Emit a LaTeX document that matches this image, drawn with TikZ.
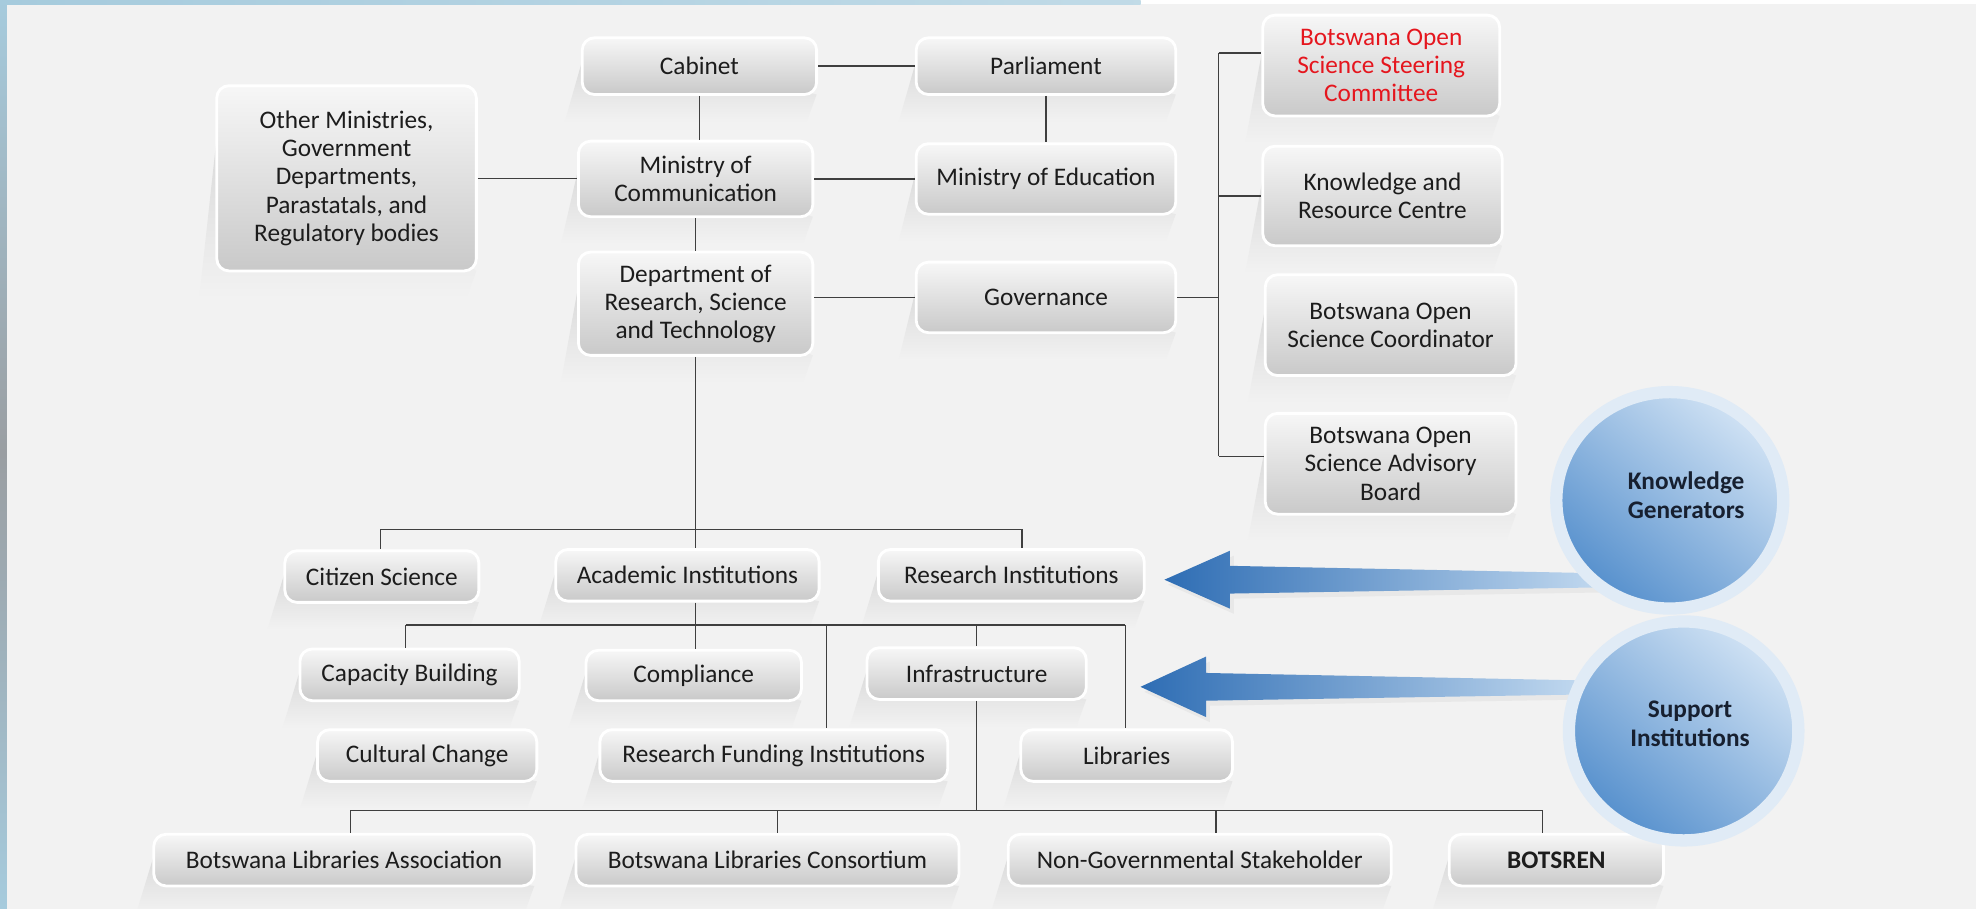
\documentclass[tikz,border=0pt]{standalone}
\usepackage{fontspec}
\setmainfont{Carlito}
\usetikzlibrary{calc,shapes.geometric}
\definecolor{bg}{HTML}{F2F2F2}
\definecolor{shd}{HTML}{D2D2D2}
\definecolor{boxtop}{HTML}{F7F7F7}
\definecolor{boxbot}{HTML}{C9C9C9}
\definecolor{txt}{HTML}{1C1C1C}
\definecolor{conncol}{HTML}{3F3F3F}
\definecolor{redtxt}{HTML}{E5161E}
\definecolor{arrdark}{HTML}{2E6DB4}
\definecolor{arrlight}{HTML}{C3DAF0}
\definecolor{elltop}{HTML}{D0E2F4}
\definecolor{ellbot}{HTML}{5690CD}
\definecolor{halo}{HTML}{E0EBF6}
\definecolor{stripblue}{HTML}{A6CBDD}
\definecolor{stripgray}{HTML}{9A9EA2}
\definecolor{circtxt}{HTML}{172030}
\newcommand\obox[7][]{%
  \pgfmathsetmacro\bw{(#5-#3)*0.0252}%
  \pgfmathsetmacro\bh{(#6-#4)*0.0252}%
  \shade[top color=shd, bottom color=bg] (#3+4,#4+4) -- (#3-14,#6+22) -- (#5-8,#6+22) -- (#5,#6) -- cycle;
  \node[obx,minimum width=\bw cm,minimum height=\bh cm,#1] (#2) at ({(#3+#5)/2},{(#4+#6)/2}) {#7};
}
\begin{document}
\begin{tikzpicture}[x=0.0252cm,y=-0.0252cm,
  obx/.style={rectangle, rounded corners=7pt, top color=boxtop, bottom color=boxbot,
    draw=white, line width=1.6pt, inner sep=0pt, align=center, text=txt,
    font=\fontsize{14.4}{16}\selectfont},
  conn/.style={draw=conncol, line width=0.8pt},
  ell/.style={ellipse, draw=halo, line width=7pt, top color=elltop, bottom color=ellbot,
    shading angle=-40, inner sep=0pt},
  ctext/.style={align=center, text=circtxt, font=\fontsize{14.4}{16.5}\selectfont\bfseries}]
\useasboundingbox (0,0) rectangle (1568,721);
% background
\fill[bg] (0,0) rectangle (1568,721);
\shade[top color=stripblue, bottom color=stripgray] (0,0) rectangle (5.5,360);
\shade[top color=stripgray, bottom color=stripblue] (0,360) rectangle (5.5,721);
\shade[left color=stripblue, right color=stripblue!70!white] (0,0) rectangle (905,3.5);
\fill[white] (905,0) rectangle (1568,3.5);

% boxes
\obox{cab}{462}{30}{648}{75}{Cabinet}
\obox{par}{727}{30}{933}{75}{Parliament}
\obox{oth}{172}{68}{378}{215}{Other Ministries,\\Government\\Departments,\\Parastatals, and\\Regulatory bodies}
\obox{mc}{459}{112}{645}{172}{Ministry of\\Communication}
\obox{me}{727}{114}{933}{170}{Ministry of Education}
\obox{dept}{459}{200}{645}{282}{Department of\\Research, Science\\and Technology}
\obox{gov}{727}{208}{933}{264}{Governance}
\obox[text=redtxt]{steer}{1002}{12}{1190}{92}{Botswana Open\\Science Steering\\Committee}
\obox{krc}{1002}{116}{1192}{195}{Knowledge and\\Resource Centre}
\obox{coord}{1004}{218}{1203}{298}{Botswana Open\\Science Coordinator}
\obox{adv}{1004}{328}{1203}{408}{Botswana Open\\Science Advisory\\Board}
\obox{cit}{226}{437}{380}{478}{Citizen Science}
\obox{acad}{441}{436}{650}{477}{Academic Institutions}
\obox{res}{697}{436}{908}{477}{Research Institutions}
\obox{cap}{238}{515}{412}{556}{Capacity Building}
\obox{comp}{465}{516}{636}{556}{Compliance}
\obox{infra}{688}{514}{862}{555}{Infrastructure}
\obox{cult}{252}{579}{426}{620}{Cultural Change}
\obox{rfi}{476}{579}{752}{620}{Research Funding Institutions}
\obox{lib}{810}{579}{978}{620}{Libraries}
\obox{bla}{122}{662}{424}{703}{Botswana Libraries Association}
\obox{blc}{457}{662}{761}{703}{Botswana Libraries Consortium}
\obox{ngs}{800}{662}{1104}{703}{Non-Governmental Stakeholder}
\obox[font=\fontsize{14.4}{16}\selectfont\bfseries]{bots}{1150}{662}{1320}{703}{BOTSREN}

% connectors: top
\draw[conn] (cab.east) -- (par.west);
\draw[conn] (cab.south) -- (cab.south |- mc.north);
\draw[conn] (par.south) -- (par.south |- me.north);
\draw[conn] (oth.east) -- (oth.east -| mc.west);
\draw[conn] (mc.east) -- (mc.east -| me.west);
\draw[conn] (mc.south) -- (mc.south |- dept.north);
\draw[conn] (gov.west -| dept.east) -- (gov.west);
\coordinate (bT) at (967,42);
\coordinate (bB) at (967,362);
\draw[conn] (bT) -- (bB);
\draw[conn] (bT) -- (bT -| steer.west);
\draw[conn] (bT |- krc.west) -- (krc.west);
\draw[conn] (bB) -- (bB -| adv.west);
\draw[conn] (gov.east) -- (gov.east -| bT);
% middle
\coordinate (m1) at (302,420);
\coordinate (m2) at (811,420);
\draw[conn] (m1) -- (m2);
\draw[conn] (m1) -- (m1 |- cit.north);
\draw[conn] (m2) -- (m2 |- res.north);
\draw[conn] (dept.south) -- (dept.south |- acad.north);
\coordinate (n1) at (322,496);
\coordinate (n2) at (656,496);
\coordinate (n3) at (775,496);
\coordinate (n4) at (893,496);
\draw[conn] (n1) -- (n4);
\draw[conn] (dept.south |- acad.south) -- (dept.south |- comp.north);
\draw[conn] (n1) -- (n1 |- cap.north);
\draw[conn] (n2) -- (n2 |- rfi.north);
\draw[conn] (n3) -- (n3 |- infra.north);
\draw[conn] (n4) -- (n4 |- lib.north);
% bottom
\coordinate (p1) at (278,643);
\coordinate (p2) at (617,643);
\coordinate (p3) at (965,643);
\coordinate (p4) at (1224,643);
\draw[conn] (p1) -- (p4);
\draw[conn] (infra.south) -- (infra.south |- p1);
\draw[conn] (p1) -- (p1 |- bla.north);
\draw[conn] (p2) -- (p2 |- blc.north);
\draw[conn] (p3) -- (p3 |- ngs.north);
\draw[conn] (p4) -- (p4 |- bots.north);

% arrows
\fill[black!9] (927,464) -- (979,441) -- (979,453) -- (1278,459) -- (1278,470) -- (979,475) -- (979,487) -- cycle;
\shade[left color=arrdark, right color=arrlight] (924,460) -- (976,437) -- (976,449) -- (1275,455) -- (1275,466) -- (976,471) -- (976,483) -- cycle;
\fill[black!9] (908,549) -- (960,525) -- (960,538) -- (1263,544) -- (1263,555) -- (960,560) -- (960,573) -- cycle;
\shade[left color=arrdark, right color=arrlight] (905,545) -- (957,521) -- (957,534) -- (1260,540) -- (1260,551) -- (957,556) -- (957,569) -- cycle;

% ellipses
\node[ell, minimum width=4.54cm, minimum height=4.33cm] (kg) at (1325,397) {};
\node[ctext] (kgt) at (1338,393) {Knowledge\\Generators};
\node[ell, minimum width=4.59cm, minimum height=4.38cm] (si) at (1336,580) {};
\node[ctext] (sit) at (1341,574) {Support\\Institutions};
\end{tikzpicture}
\end{document}
